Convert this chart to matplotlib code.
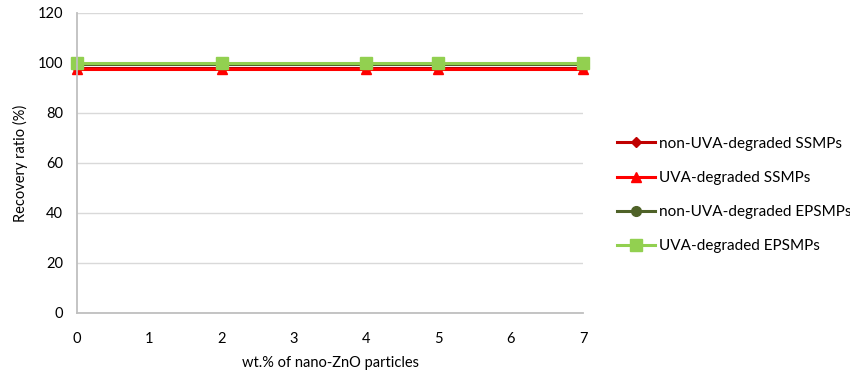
import matplotlib
matplotlib.use("Agg")
import matplotlib.pyplot as plt

plt.rcParams['font.family'] = ['Lato', 'DejaVu Sans']

x_values = [0, 2, 4, 5, 7]
series_labels = ["non-UVA-degraded SSMPs", "UVA-degraded SSMPs",
                 "non-UVA-degraded EPSMPs", "UVA-degraded EPSMPs"]
non_uva_ssmps = [98.2, 98.2, 98.2, 98.2, 98.2]
uva_ssmps = [97.8, 97.8, 97.8, 97.8, 97.8]
non_uva_epsmps = [99.6, 99.6, 99.6, 99.6, 99.6]
uva_epsmps = [100.0, 100.0, 100.0, 100.0, 100.0]
x_ticks = [0, 1, 2, 3, 4, 5, 6, 7]
y_ticks = [0, 20, 40, 60, 80, 100, 120]

fig = plt.figure(figsize=(8.5, 3.78), dpi=100)
ax = fig.add_axes([77/850, 1-313/378, (583-77)/850, 300/378])

styles = [
    dict(color="#C00000", marker="D", markersize=5),
    dict(color="#FF0000", marker="^", markersize=7),
    dict(color="#4F6228", marker="o", markersize=7),
    dict(color="#92D050", marker="s", markersize=8),
]
for vals, lab, st in zip([non_uva_ssmps, uva_ssmps, non_uva_epsmps, uva_epsmps],
                         series_labels, styles):
    ax.plot(x_values, vals, label=lab, linewidth=2.2, clip_on=False, **st)

ax.set_xlim(0, 7)
ax.set_ylim(0, 120)
ax.set_xticks(x_ticks)
ax.set_yticks(y_ticks)
ax.grid(axis='y', color="#D9D9D9", linewidth=1)
ax.set_axisbelow(True)
for s in ["top", "right"]:
    ax.spines[s].set_visible(False)
for s in ["left", "bottom"]:
    ax.spines[s].set_color("#BFBFBF")
    ax.spines[s].set_linewidth(1.3)
ax.tick_params(length=0, labelsize=10.5, colors="#000000")
ax.tick_params(axis='x', pad=14)
ax.tick_params(axis='y', pad=10)
ax.set_xlabel("wt.% of nano-ZnO particles", fontsize=10.5, labelpad=7)
ax.set_ylabel("Recovery ratio (%)", fontsize=10.5, labelpad=7)

ax.legend(loc="center left", bbox_to_anchor=(603/850, 1-195/378),
          bbox_transform=fig.transFigure, frameon=False, fontsize=11,
          handlelength=2.5, labelspacing=1.32, handletextpad=0.26)

fig.savefig("out.png", dpi=100)
